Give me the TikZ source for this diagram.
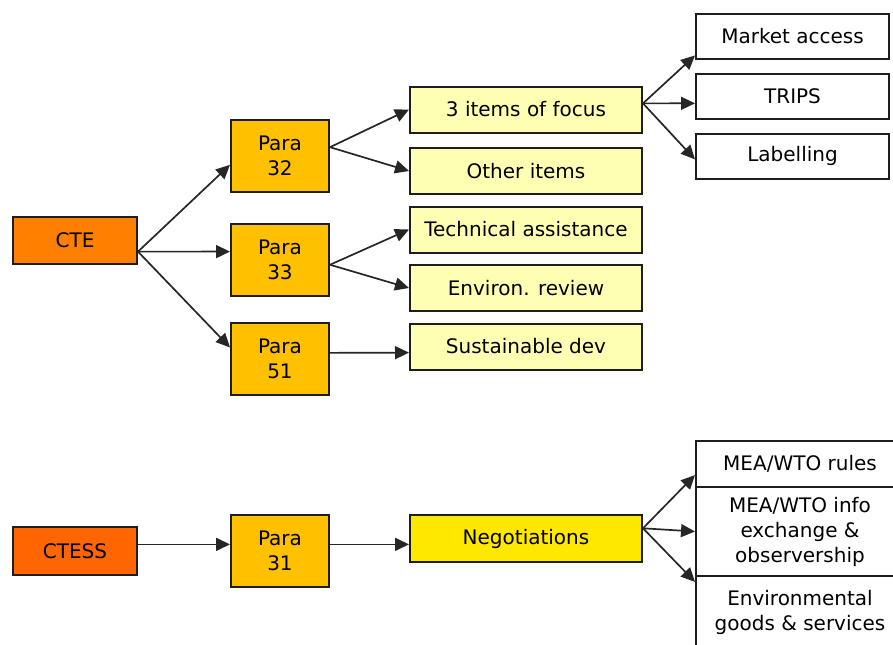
\documentclass[tikz,border=0pt]{standalone}
\usepackage{fontspec}
\setmainfont{DejaVu Sans}
\usetikzlibrary{arrows.meta}
\definecolor{boxline}{HTML}{1E1E1E}
\definecolor{cteorange}{HTML}{FF8000}
\definecolor{ctessorange}{HTML}{FF6600}
\definecolor{paraorange}{HTML}{FFC000}
\definecolor{itemyellow}{HTML}{FFFFB4}
\definecolor{negyellow}{HTML}{FFE800}
\tikzset{
	>={Triangle[length=7pt,width=6.5pt]},
	box/.style={draw=boxline,line width=1pt,rectangle,align=center,inner sep=0pt,font=\fontsize{10}{12.5}\selectfont},
	committee/.style={box,minimum width=62pt,minimum height=23.5pt},
	para/.style={box,fill=paraorange,minimum width=49pt,minimum height=36pt},
	item/.style={box,fill=itemyellow,minimum width=116pt,minimum height=23pt},
	topic/.style={box,fill=white,minimum width=96.5pt,minimum height=22.5pt},
	issue/.style={box,fill=white,minimum width=104pt},
	conn/.style={->,line width=0.85pt,draw=black!85}
}
\begin{document}
\begin{tikzpicture}[x=0.5pt,y=-0.5pt]
			\useasboundingbox (0,0) rectangle (893,644);
			\node[committee,fill=cteorange] (cte) at (75,240.5) {CTE};
			\node[para] (p32) at (280,156) {Para\\32};
			\node[para] (p33) at (280,259.5) {Para\\33};
			\node[para] (p51) at (280,359) {Para\\51};
			\node[item] (focus) at (526,109.5) {3 items of focus};
			\node[item] (other) at (526,171) {Other items};
			\node[item] (tech) at (526,229.5) {Technical assistance};
			\node[item] (envrev) at (526,288) {Environ. review};
			\node[item] (sust) at (526,346.5) {Sustainable dev};
			\node[topic] (market) at (792.5,36.5) {Market access};
			\node[topic] (trips) at (792.5,96.5) {TRIPS};
			\node[topic] (label) at (792.5,156) {Labelling};
			
			\node[committee,fill=ctessorange,minimum height=24pt] (ctess) at (75,551) {CTESS};
			\node[para] (p31) at (280,550.5) {Para\\31};
			\node[item,fill=negyellow,minimum height=23.5pt] (neg) at (526,538.5) {Negotiations};
			\node[issue,minimum height=23pt] (rules) at (800,464) {MEA/WTO rules};
			\node[issue,minimum height=44.5pt] (info) at (800,531.5) {MEA/WTO info\\exchange \&\\observership};
			\node[issue,minimum height=36pt] (goods) at (800,612) {Environmental\\goods \& services};
			
			\draw[conn] (cte.-10.5) -- (p32.190);
			\draw[conn] (cte.-10.5) -- (p33.171);
			\draw[conn] (cte.-10.5) -- (p51.167);
			\draw[conn] (p32.10) -- (focus.west);
			\draw[conn] (p32.10) -- (other.west);
			\draw[conn] (p33.-6) -- (tech.west);
			\draw[conn] (p33.-6) -- (envrev.west);
			\draw[conn] (p51.7.5) -- (sust.-177);
			\draw[conn] (focus.3) -- (market.191);
			\draw[conn] (focus.3) -- (trips.184);
			\draw[conn] (focus.3) -- (label.182);
			
			\draw[conn] (ctess.east |- p31.173) -- (p31.173);
			\draw[conn] (p31.7) -- (neg.west |- p31.7);
			\draw[conn] (neg.5) -- (rules.186);
			\draw[conn] (neg.5) -- (info.west);
			\draw[conn] (neg.5) -- (goods.164);
		\end{tikzpicture}
\end{document}
